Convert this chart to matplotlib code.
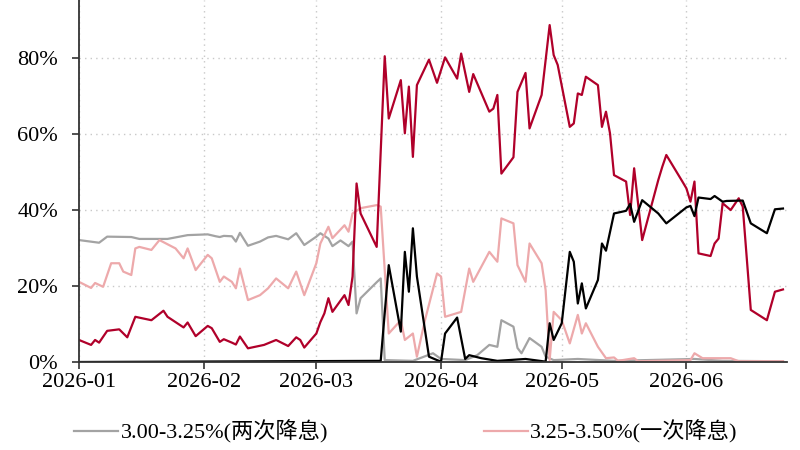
"""
Rate-cut probability paths, Jan-Jun 2026 (reproduction).
"""

import pandas as pd
import matplotlib
matplotlib.use("Agg")
import matplotlib.pyplot as plt
import matplotlib.dates as mdates
from matplotlib.ticker import PercentFormatter

# ---- data (probabilities in %) ----
gray_dates = [
    "2026-01-01", "2026-01-06", "2026-01-08", "2026-01-14", "2026-01-16",
    "2026-01-23", "2026-01-28", "2026-02-02", "2026-02-04", "2026-02-05",
    "2026-02-06", "2026-02-08", "2026-02-09", "2026-02-10", "2026-02-12",
    "2026-02-15", "2026-02-17", "2026-02-19", "2026-02-22", "2026-02-24",
    "2026-02-26", "2026-03-01", "2026-03-02", "2026-03-04", "2026-03-05",
    "2026-03-07", "2026-03-09", "2026-03-10", "2026-03-11", "2026-03-12",
    "2026-03-16", "2026-03-17", "2026-03-18", "2026-03-25", "2026-03-30",
    "2026-04-01", "2026-04-07", "2026-04-10", "2026-04-13", "2026-04-15",
    "2026-04-16", "2026-04-19", "2026-04-20", "2026-04-21", "2026-04-23",
    "2026-04-26", "2026-04-27", "2026-04-29", "2026-05-05", "2026-05-14",
    "2026-06-03", "2026-06-10", "2026-06-25",
]
gray_vals = [
    32.1, 31.4, 33.0, 32.9, 32.4,
    32.4, 33.4, 33.6, 33.1, 32.9,
    33.2, 33.1, 31.7, 34.0, 30.6,
    31.7, 32.8, 33.2, 32.3, 33.9,
    30.8, 33.0, 33.9, 32.5, 30.5,
    32.0, 30.5, 31.7, 12.8, 16.8,
    21.0, 22.0, 0.5, 0.3, 2.3,
    0.8, 0.5, 1.8, 4.5, 4.0,
    11.0, 9.3, 3.7, 2.3, 6.3,
    4.0, 1.4, 0.5, 0.8, 0.3,
    0.8, 0.3, 0.2,
]

pink_dates = [
    "2026-01-01", "2026-01-04", "2026-01-05", "2026-01-07", "2026-01-09",
    "2026-01-11", "2026-01-12", "2026-01-14", "2026-01-15", "2026-01-16",
    "2026-01-19", "2026-01-21", "2026-01-25", "2026-01-27", "2026-01-28",
    "2026-01-30", "2026-02-02", "2026-02-03", "2026-02-05", "2026-02-06",
    "2026-02-08", "2026-02-09", "2026-02-10", "2026-02-12", "2026-02-15",
    "2026-02-17", "2026-02-19", "2026-02-22", "2026-02-24", "2026-02-26",
    "2026-03-01", "2026-03-02", "2026-03-04", "2026-03-05", "2026-03-08",
    "2026-03-09", "2026-03-10", "2026-03-12", "2026-03-16", "2026-03-17",
    "2026-03-19", "2026-03-22", "2026-03-23", "2026-03-25", "2026-03-26",
    "2026-03-28", "2026-03-31", "2026-04-01", "2026-04-02", "2026-04-06",
    "2026-04-08", "2026-04-09", "2026-04-13", "2026-04-15", "2026-04-16",
    "2026-04-19", "2026-04-20", "2026-04-22", "2026-04-23", "2026-04-26",
    "2026-04-27", "2026-04-28", "2026-04-29", "2026-05-01", "2026-05-03",
    "2026-05-05", "2026-05-06", "2026-05-07", "2026-05-10", "2026-05-12",
    "2026-05-14", "2026-05-15", "2026-05-19", "2026-05-20", "2026-06-02",
    "2026-06-03", "2026-06-05", "2026-06-12", "2026-06-14", "2026-06-25",
]
pink_vals = [
    21.1, 19.5, 20.8, 19.8, 26.0,
    26.0, 23.8, 22.9, 29.9, 30.3,
    29.5, 32.1, 29.9, 27.3, 29.9,
    24.2, 28.2, 27.3, 21.1, 22.5,
    21.1, 19.4, 24.6, 16.3, 17.6,
    19.4, 22.0, 19.4, 23.8, 17.6,
    26.0, 31.2, 35.6, 32.6, 36.0,
    34.3, 39.1, 40.5, 41.3, 40.9,
    7.5, 11.0, 5.8, 7.5, 1.4,
    11.0, 23.3, 22.5, 11.9, 13.2,
    24.6, 21.1, 29.0, 26.4, 37.8,
    36.5, 25.5, 21.1, 31.2, 26.0,
    18.9, 0.5, 13.2, 11.0, 4.9,
    12.4, 7.5, 10.2, 4.0, 1.0,
    1.2, 0.3, 1.0, 0.2, 0.5,
    2.3, 1.0, 1.0, 0.2, 0.2,
]

red_dates = [
    "2026-01-01", "2026-01-04", "2026-01-05", "2026-01-06", "2026-01-08",
    "2026-01-11", "2026-01-13", "2026-01-15", "2026-01-19", "2026-01-22",
    "2026-01-23", "2026-01-27", "2026-01-28", "2026-01-30", "2026-02-02",
    "2026-02-03", "2026-02-05", "2026-02-06", "2026-02-08", "2026-02-09",
    "2026-02-10", "2026-02-12", "2026-02-16", "2026-02-19", "2026-02-22",
    "2026-02-24", "2026-02-25", "2026-02-26", "2026-03-01", "2026-03-02",
    "2026-03-03", "2026-03-04", "2026-03-05", "2026-03-08", "2026-03-09",
    "2026-03-10", "2026-03-11", "2026-03-12", "2026-03-16", "2026-03-18",
    "2026-03-19", "2026-03-22", "2026-03-23", "2026-03-24", "2026-03-25",
    "2026-03-26", "2026-03-29", "2026-03-31", "2026-04-02", "2026-04-05",
    "2026-04-06", "2026-04-08", "2026-04-09", "2026-04-13", "2026-04-14",
    "2026-04-15", "2026-04-16", "2026-04-19", "2026-04-20", "2026-04-22",
    "2026-04-23", "2026-04-26", "2026-04-28", "2026-04-29", "2026-04-30",
    "2026-05-03", "2026-05-04", "2026-05-05", "2026-05-06", "2026-05-07",
    "2026-05-10", "2026-05-11", "2026-05-12", "2026-05-13", "2026-05-14",
    "2026-05-17", "2026-05-18", "2026-05-19", "2026-05-21", "2026-05-25",
    "2026-05-26", "2026-05-27", "2026-05-31", "2026-06-01", "2026-06-02",
    "2026-06-03", "2026-06-04", "2026-06-07", "2026-06-08", "2026-06-09",
    "2026-06-10", "2026-06-12", "2026-06-14", "2026-06-15", "2026-06-17",
    "2026-06-21", "2026-06-23", "2026-06-25",
]
red_vals = [
    5.8, 4.5, 5.8, 5.1, 8.2,
    8.6, 6.5, 11.9, 11.0, 13.5,
    11.9, 9.1, 10.4, 6.8, 9.5,
    8.9, 5.3, 6.0, 5.1, 4.6,
    6.7, 3.6, 4.5, 5.8, 4.2,
    6.5, 5.8, 3.8, 7.5, 10.5,
    12.8, 16.8, 13.2, 17.6, 15.0,
    22.5, 47.0, 39.1, 30.3, 80.5,
    64.1, 74.2, 60.2, 72.5, 54.0,
    72.9, 79.6, 73.5, 80.2, 74.6,
    81.2, 71.1, 75.8, 65.9, 66.7,
    70.3, 49.6, 53.9, 71.1, 76.1,
    61.5, 70.3, 88.7, 80.8, 78.2,
    61.9, 62.8, 70.7, 70.3, 75.1,
    72.9, 61.9, 65.9, 60.2, 49.2,
    47.5, 38.7, 51.0, 32.1, 47.9,
    51.4, 54.5, 47.5, 45.7, 42.2,
    47.5, 28.6, 27.9, 31.2, 32.5,
    41.8, 40.0, 43.1, 40.9, 13.7,
    11.0, 18.5, 19.1,
]

black_dates = [
    "2026-01-01", "2026-03-17", "2026-03-19", "2026-03-22", "2026-03-23",
    "2026-03-24", "2026-03-25", "2026-03-26", "2026-03-29", "2026-03-31",
    "2026-04-01", "2026-04-02", "2026-04-05", "2026-04-07", "2026-04-08",
    "2026-04-11", "2026-04-15", "2026-04-22", "2026-04-27", "2026-04-28",
    "2026-04-29", "2026-05-01", "2026-05-03", "2026-05-04", "2026-05-05",
    "2026-05-06", "2026-05-07", "2026-05-10", "2026-05-11", "2026-05-12",
    "2026-05-14", "2026-05-17", "2026-05-18", "2026-05-19", "2026-05-21",
    "2026-05-25", "2026-05-27", "2026-06-01", "2026-06-02", "2026-06-03",
    "2026-06-04", "2026-06-07", "2026-06-08", "2026-06-10", "2026-06-11",
    "2026-06-15", "2026-06-17", "2026-06-21", "2026-06-23", "2026-06-25",
]
black_vals = [
    0.0, 0.3, 25.5, 8.0, 29.0,
    18.5, 35.2, 22.5, 1.4, 0.5,
    0.1, 7.5, 11.7, 0.8, 1.8,
    1.0, 0.3, 0.8, 0.1, 10.2,
    5.8, 10.2, 29.0, 26.4, 15.4,
    20.7, 14.1, 21.6, 31.2, 29.3,
    39.1, 39.8, 41.6, 36.9, 42.6,
    39.1, 36.5, 40.7, 41.1, 38.4,
    43.3, 42.9, 43.7, 42.2, 42.4,
    42.5, 36.5, 33.9, 40.2, 40.4,
]

series = [
    (gray_dates, gray_vals, "#a3a3a3", "3.00-3.25%(两次降息)"),
    (pink_dates, pink_vals, "#eda9ab", "3.25-3.50%(一次降息)"),
    (red_dates, red_vals, "#b0002a", None),
    (black_dates, black_vals, "#000000", None),
]

plt.rcParams["font.family"] = ["Liberation Serif", "Noto Sans CJK SC", "DejaVu Sans"]

fig = plt.figure(figsize=(8, 4.5), dpi=100)
ax = fig.add_axes([79 / 800, 88 / 450, 708 / 800, 362 / 450])

for dates, vals, color, label in series:
    ax.plot(pd.to_datetime(dates), vals, color=color, linewidth=1.6,
            label=label if label else "_nolegend_")

ax.set_xlim(pd.Timestamp("2026-01-01"), pd.Timestamp("2026-06-26"))
ax.set_ylim(0, 95.3)
ax.set_yticks([0, 20, 40, 60, 80])
ax.yaxis.set_major_formatter(PercentFormatter(xmax=100, decimals=0))
ax.xaxis.set_major_locator(mdates.MonthLocator())
ax.xaxis.set_major_formatter(mdates.DateFormatter("%Y-%m"))

# spines / ticks
for side in ("top", "right"):
    ax.spines[side].set_visible(False)
for side in ("left", "bottom"):
    ax.spines[side].set_color("#333333")
    ax.spines[side].set_linewidth(1.3)
ax.tick_params(axis="y", length=5, width=1.2, color="#333333", pad=10, labelsize=16)
ax.tick_params(axis="x", length=5, width=1.2, color="#333333", pad=3, labelsize=16)

ax.grid(True, linestyle=(0, (1, 3)), color="#c8c8c8", linewidth=1)
ax.set_axisbelow(True)

fig.legend(loc="center left", bbox_to_anchor=(74 / 800, 1 - 432 / 450),
           ncol=2, frameon=False, fontsize=16, handlelength=2.0,
           handletextpad=0.1, columnspacing=7.0, borderpad=0, borderaxespad=0)

fig.savefig("out.png", dpi=100)
